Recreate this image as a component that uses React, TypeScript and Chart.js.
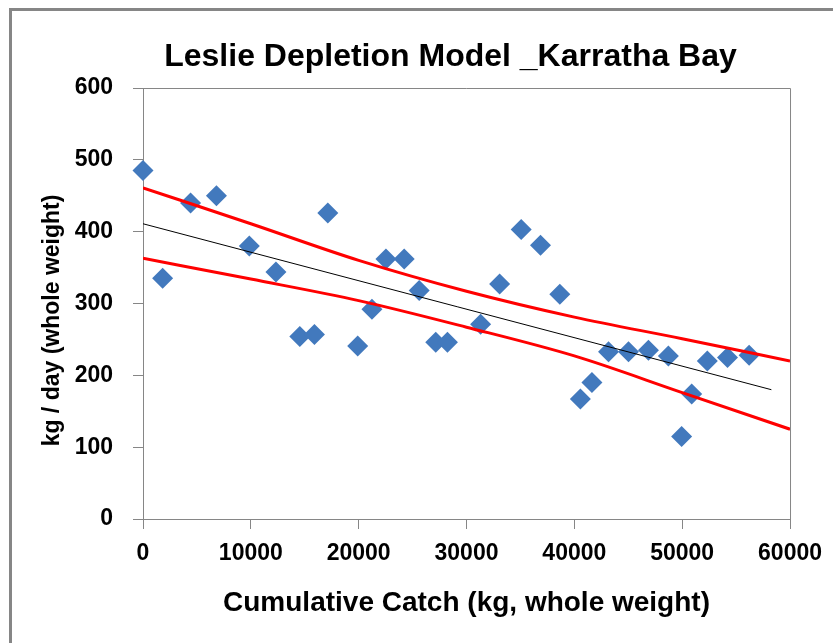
import React, { useEffect, useRef } from "react";
import { Chart, registerables } from "chart.js";

Chart.register(...registerables);

// ---- data ----
const catchKg = [
  0, 1820, 4410, 6810, 9860, 12330, 14540, 15900, 17140, 19910, 21230, 22530,
  24220, 25610, 27150, 28230, 31310, 33070, 35070, 36860, 38650, 40560, 41630,
  43170, 45020, 46870, 48720, 49950, 50880, 52330, 54200, 56210,
];
const kgPerDay = [
  485, 335, 440, 450, 380, 344, 254, 257, 426, 241, 292, 362,
  362, 318, 246, 246, 271, 327, 403, 381, 313, 167, 190,
  233, 233, 235, 227, 115, 174, 220, 225, 228,
];
const fitX = [0, 58270];
const fitY = [411, 180];
const bandX = [0, 10000, 20000, 30000, 40000, 50000, 60000];
const bandUpper = [461, 411, 360, 317, 281, 251, 220];
const bandLower = [363, 334, 304, 267, 227, 176, 125];
const xTicks = [0, 10000, 20000, 30000, 40000, 50000, 60000];
const yTicks = [0, 100, 200, 300, 400, 500, 600];

const TITLE = "Leslie Depletion Model _Karratha Bay";
const X_TITLE = "Cumulative Catch (kg, whole weight)";
const Y_TITLE = "kg / day (whole weight)";

const FONT = '"Liberation Sans", Arial, sans-serif';
const AXIS_GRAY = "#868686";

const toXY = (xs: number[], ys: number[]) => xs.map((x, i) => ({ x, y: ys[i] }));

const plotBoxPlugin = {
  id: "plotBox",
  beforeDatasetsDraw(chart: any) {
    const { ctx, chartArea } = chart;
    ctx.save();
    ctx.strokeStyle = AXIS_GRAY;
    ctx.lineWidth = 1;
    ctx.beginPath();
    ctx.moveTo(chartArea.left, chartArea.top + 0.5);
    ctx.lineTo(chartArea.right + 0.5, chartArea.top + 0.5);
    ctx.lineTo(chartArea.right + 0.5, chartArea.bottom);
    ctx.stroke();
    ctx.restore();
  },
};

const textPlugin = {
  id: "customTexts",
  afterDraw(chart: any) {
    const { ctx, chartArea } = chart;
    ctx.save();
    ctx.fillStyle = "#000";
    ctx.textAlign = "center";
    ctx.textBaseline = "middle";
    ctx.font = `bold 32px ${FONT}`;
    ctx.fillText(TITLE, (chartArea.left + chartArea.right) / 2 - 16, 57);
    // y-axis title
    ctx.font = `bold 23px ${FONT}`;
    ctx.translate(53, (chartArea.top + chartArea.bottom) / 2 + 17);
    ctx.rotate(-Math.PI / 2);
    ctx.fillText(Y_TITLE, 0, 0);
    ctx.restore();
  },
};

function LeslieChart() {
  const ref = useRef<HTMLCanvasElement | null>(null);
  useEffect(() => {
    if (!ref.current) return;
    const chart = new Chart(ref.current, {
      type: "scatter",
      data: {
        datasets: [
          {
            type: "line",
            label: "fit",
            data: toXY(fitX, fitY),
            borderColor: "#000000",
            borderWidth: 1,
            pointRadius: 0,
            fill: false,
            order: 1,
          },
          {
            type: "line",
            label: "upper",
            data: toXY(bandX, bandUpper),
            borderColor: "#FF0000",
            borderWidth: 3,
            pointRadius: 0,
            cubicInterpolationMode: "monotone",
            fill: false,
            order: 2,
          },
          {
            type: "line",
            label: "lower",
            data: toXY(bandX, bandLower),
            borderColor: "#FF0000",
            borderWidth: 3,
            pointRadius: 0,
            cubicInterpolationMode: "monotone",
            fill: false,
            order: 2,
          },
          {
            type: "scatter",
            label: "CPUE",
            data: toXY(catchKg, kgPerDay),
            pointStyle: "rectRot",
            pointRadius: 10.5,
            pointHoverRadius: 10.5,
            backgroundColor: "#4279BD",
            borderWidth: 0,
            clip: false,
            order: 3,
          },
        ],
      },
      options: {
        responsive: false,
        animation: false,
        events: [],
        layout: { padding: { left: 38, right: 41, top: 88, bottom: 0 } },
        plugins: {
          legend: { display: false },
          title: { display: false },
          tooltip: { enabled: false },
        },
        scales: {
          x: {
            type: "linear",
            min: 0,
            max: 60000,
            afterBuildTicks: (s: any) => {
              s.ticks = xTicks.map((v) => ({ value: v }));
            },
            afterFit: (s: any) => {
              s.height = 124;
            },
            ticks: {
              color: "#000",
              font: { family: FONT, size: 23, weight: "bold" },
              padding: 11,
              maxRotation: 0,
              autoSkip: false,
              callback: (v: any) => String(v),
            },
            grid: {
              drawOnChartArea: false,
              drawTicks: true,
              tickLength: 10,
              color: AXIS_GRAY,
            },
            border: { display: true, color: AXIS_GRAY, width: 1 },
            title: {
              display: true,
              text: X_TITLE,
              color: "#000",
              font: { family: FONT, size: 28, weight: "bold" },
              padding: { top: 0, bottom: 23 },
            },
          },
          y: {
            type: "linear",
            min: 0,
            max: 600,
            afterBuildTicks: (s: any) => {
              s.ticks = yTicks.map((v) => ({ value: v }));
            },
            afterFit: (s: any) => {
              s.width = 105;
            },
            ticks: {
              color: "#000",
              font: { family: FONT, size: 23, weight: "bold" },
              padding: 20,
              callback: (v: any) => String(v),
            },
            grid: {
              drawOnChartArea: false,
              drawTicks: true,
              tickLength: 10,
              color: AXIS_GRAY,
            },
            border: { display: true, color: AXIS_GRAY, width: 1 },
            title: { display: false },
          },
        },
      },
      plugins: [plotBoxPlugin, textPlugin],
    } as any);
    return () => chart.destroy();
  }, []);

  return (
    <div
      style={{
        position: "absolute",
        left: 0,
        top: 0,
        width: 833,
        height: 643,
        overflow: "hidden",
        background: "#fff",
      }}
    >
      <div
        style={{
          position: "absolute",
          left: 9,
          top: 8,
          width: 900,
          height: 700,
          borderLeft: "3px solid #868686",
          borderTop: "3px solid #868686",
        }}
      />
      <canvas
        ref={ref}
        width={833}
        height={643}
        style={{ position: "absolute", left: 0, top: 0, width: 833, height: 643 }}
      />
    </div>
  );
}

export default function App() {
  return <LeslieChart />;
}
